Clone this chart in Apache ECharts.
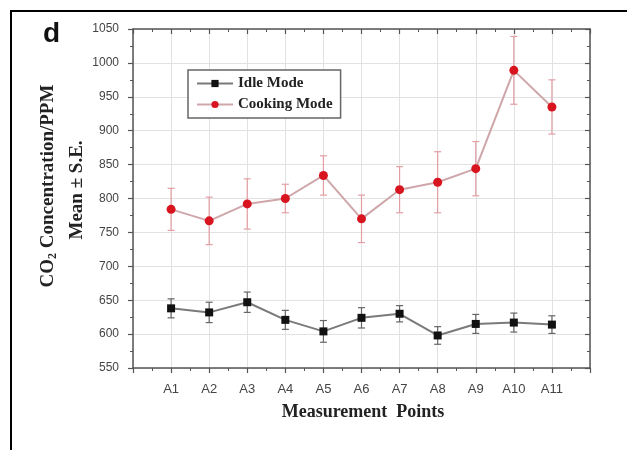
<!DOCTYPE html>
<html>
<head>
<meta charset="utf-8">
<script src="https://cdn.jsdelivr.net/npm/echarts@6/dist/echarts.min.js"></script>
<style>
html,body{margin:0;padding:0;background:#fff;}
#chart{width:627px;height:450px;}
</style>
</head>
<body>
<div id="chart"></div>
<script>
var categories = ['A1','A2','A3','A4','A5','A6','A7','A8','A9','A10','A11'];
var idleMean = [638, 632, 647, 621, 604, 624, 630, 598, 615, 617, 614];
var idleSE   = [14, 15, 15, 14, 16, 15, 12, 13, 14, 14, 13];
var cookMean = [784, 767, 792, 800, 834, 770, 813, 824, 844, 989, 935];
var cookSE   = [31, 35, 37, 21, 29, 35, 34, 45, 40, 50, 40];
var yTicks = [550, 600, 650, 700, 750, 800, 850, 900, 950, 1000, 1050];

var chart = echarts.init(document.getElementById('chart'), null, {renderer: 'canvas'});

function pts(mean){ return mean.map(function(v,i){ return [i+1, v]; }); }
function errs(mean, se){ return mean.map(function(v,i){ return [i+1, v-se[i], v+se[i]]; }); }

function errRender(color){
  return function(params, api){
    var x = api.value(0);
    var lo = api.coord([x, api.value(1)]);
    var hi = api.coord([x, api.value(2)]);
    var w = 3.5;
    var st = {stroke: color, lineWidth: 1.2, fill: null};
    return {type: 'group', children: [
      {type:'line', shape:{x1:lo[0], y1:lo[1], x2:hi[0], y2:hi[1]}, style: st},
      {type:'line', shape:{x1:lo[0]-w, y1:lo[1], x2:lo[0]+w, y2:lo[1]}, style: st},
      {type:'line', shape:{x1:hi[0]-w, y1:hi[1], x2:hi[0]+w, y2:hi[1]}, style: st}
    ]};
  };
}

var axisCol = '#555';
var gridCol = '#e2e2e2';

var option = {
  backgroundColor: '#fff',
  animation: false,
  grid: {left: 133, right: 37, top: 29, bottom: 82, containLabel: false},
  legend: {
    data: ['Idle Mode', 'Cooking Mode'],
    orient: 'vertical',
    left: 188, top: 70,
    itemWidth: 36, itemHeight: 9, itemGap: 6,
    padding: [6, 8, 6, 8],
    borderColor: '#666', borderWidth: 1.5,
    backgroundColor: '#fff',
    textStyle: {fontFamily: 'Liberation Serif', fontWeight: 'bold', fontSize: 15, color: '#222'}
  },
  xAxis: [{
    type: 'value', position: 'bottom', min: 0, max: 12, interval: 1,
    axisLine: {show: true, onZero: false, lineStyle: {color: axisCol, width: 1.5}},
    axisTick: {show: true, inside: false, length: 5, lineStyle: {color: axisCol, width: 1.2}},
    minorTick: {show: true, splitNumber: 2, length: 3, lineStyle: {color: axisCol, width: 1}},
    splitLine: {show: true, lineStyle: {color: gridCol, width: 1}},
    axisLabel: {margin: 15, color: '#444', fontFamily: 'Liberation Sans', fontSize: 13,
      formatter: function(v){ return (v >= 1 && v <= categories.length) ? categories[v-1] : ''; }}
  }, {
    type: 'value', position: 'top', min: 0, max: 12, interval: 1,
    axisLine: {show: true, onZero: false, lineStyle: {color: axisCol, width: 1.5}},
    axisTick: {show: true, inside: true, length: 5, lineStyle: {color: axisCol, width: 1.2}},
    minorTick: {show: true, splitNumber: 2, length: 3, lineStyle: {color: axisCol, width: 1}},
    splitLine: {show: false},
    axisLabel: {show: false}
  }],
  yAxis: [{
    type: 'value', position: 'left', min: 550, max: 1050, interval: 50,
    axisLine: {show: true, onZero: false, lineStyle: {color: axisCol, width: 1.5}},
    axisTick: {show: true, inside: false, length: 5, lineStyle: {color: axisCol, width: 1.2}},
    minorTick: {show: true, splitNumber: 2, length: 3, lineStyle: {color: axisCol, width: 1}},
    splitLine: {show: true, lineStyle: {color: gridCol, width: 1}},
    axisLabel: {margin: 14, color: '#444', fontFamily: 'Liberation Sans', fontSize: 12,
      formatter: function(v){ return yTicks.indexOf(v) >= 0 ? String(v) : ''; }}
  }, {
    type: 'value', position: 'right', min: 550, max: 1050, interval: 50,
    axisLine: {show: true, onZero: false, lineStyle: {color: axisCol, width: 1.5}},
    axisTick: {show: true, inside: true, length: 5, lineStyle: {color: axisCol, width: 1.2}},
    minorTick: {show: true, splitNumber: 2, length: 3, lineStyle: {color: axisCol, width: 1}},
    splitLine: {show: false},
    axisLabel: {show: false}
  }],
  series: [
    {type: 'custom', name: 'idleErr', xAxisIndex: 0, yAxisIndex: 0, data: errs(idleMean, idleSE),
      renderItem: errRender('#666'), z: 2, silent: true},
    {type: 'custom', name: 'cookErr', xAxisIndex: 0, yAxisIndex: 0, data: errs(cookMean, cookSE),
      renderItem: errRender('#e39ea3'), z: 2, silent: true},
    {type: 'line', name: 'Idle Mode', data: pts(idleMean), symbol: 'rect', symbolSize: 8,
      itemStyle: {color: '#111'}, lineStyle: {color: '#7a7a7a', width: 2}, z: 4},
    {type: 'line', name: 'Cooking Mode', data: pts(cookMean), symbol: 'circle', symbolSize: 9,
      itemStyle: {color: '#d8141f'}, lineStyle: {color: '#cfa6aa', width: 2}, z: 4}
  ],
  graphic: [
    {type: 'rect', shape: {x: 11, y: 11, width: 700, height: 700}, style: {fill: null, stroke: '#000', lineWidth: 2}, z: 100},
    {type: 'text', x: 43, y: 20, style: {text: 'd', fontFamily: 'Liberation Sans', fontWeight: 'bold', fontSize: 28, fill: '#111'}},
    {type: 'text', x: 48, y: 186, rotation: Math.PI/2,
      style: {text: '{a|CO}{s|2}{a| Concentration/PPM}', align: 'center', verticalAlign: 'middle',
        rich: {a: {fontFamily: 'Liberation Serif', fontWeight: 'bold', fontSize: 19, fill: '#222'},
               s: {fontFamily: 'Liberation Serif', fontWeight: 'bold', fontSize: 12, fill: '#222', padding: [10,0,0,0]}}}},
    {type: 'text', x: 77, y: 190, rotation: Math.PI/2,
      style: {text: 'Mean ± S.E.', align: 'center', verticalAlign: 'middle',
        fontFamily: 'Liberation Serif', fontWeight: 'bold', fontSize: 19, fill: '#222'}},
    {type: 'text', x: 363, y: 412,
      style: {text: 'Measurement  Points', align: 'center', verticalAlign: 'middle',
        fontFamily: 'Liberation Serif', fontWeight: 'bold', fontSize: 18, fill: '#222'}}
  ]
};
chart.setOption(option);
</script>
</body>
</html>
